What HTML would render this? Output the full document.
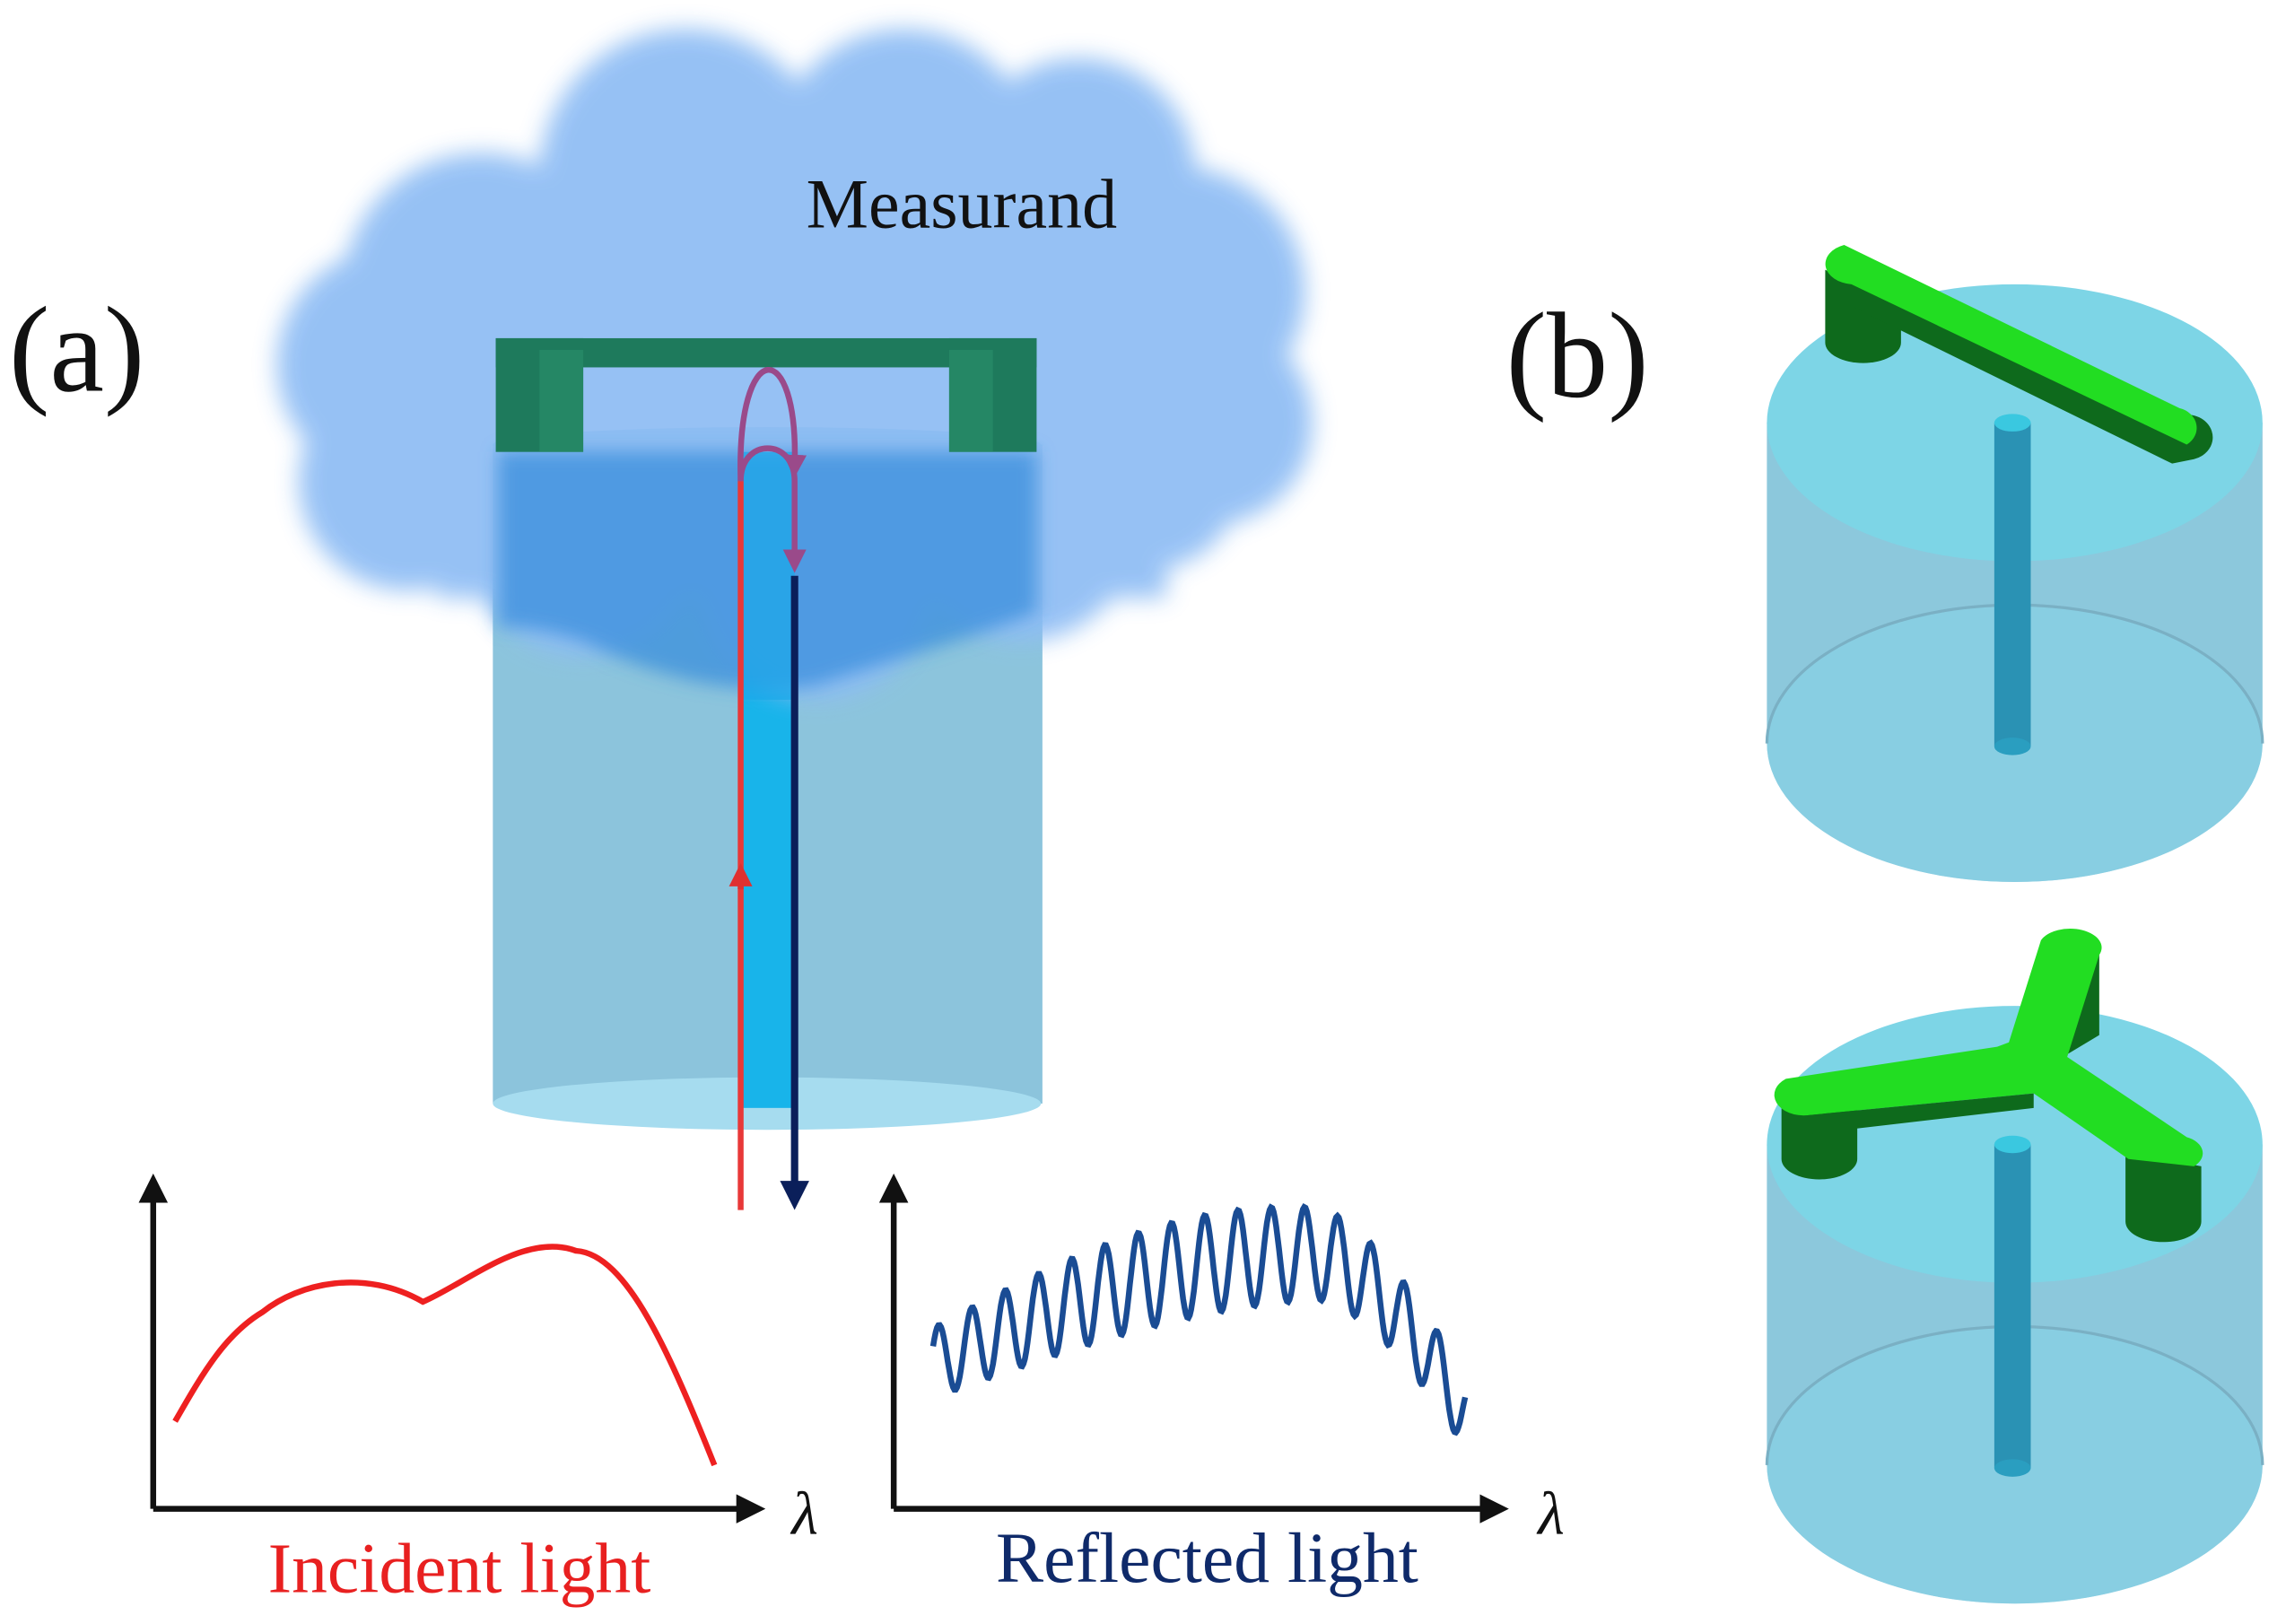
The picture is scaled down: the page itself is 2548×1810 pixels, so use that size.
<!DOCTYPE html>
<html><head><meta charset="utf-8"><style>
html,body{margin:0;padding:0;background:#fff;}
svg{display:block}
text{font-family:"Liberation Serif",serif;}
</style></head><body>
<svg width="2548" height="1810" viewBox="0 0 1568 1114" xmlns="http://www.w3.org/2000/svg">
<defs>
<filter id="blur" x="-20%" y="-20%" width="140%" height="140%"><feGaussianBlur stdDeviation="8"/></filter>
<filter id="blur2" x="-20%" y="-20%" width="140%" height="140%"><feGaussianBlur stdDeviation="6"/></filter>
<marker id="ar" viewBox="0 0 10 10" refX="5" refY="5" markerWidth="5" markerHeight="5" orient="auto"><path d="M0,0L10,5L0,10z" fill="#111"/></marker>
<marker id="an" viewBox="0 0 10 10" refX="5" refY="5" markerWidth="4" markerHeight="4" orient="auto"><path d="M0,0L10,5L0,10z" fill="#0b1f5a"/></marker>
<marker id="ap" viewBox="0 0 10 10" refX="5" refY="5" markerWidth="4" markerHeight="4" orient="auto"><path d="M0,0L10,5L0,10z" fill="#9a4a8a"/></marker>
<marker id="arr" viewBox="0 0 10 10" refX="5" refY="5" markerWidth="4" markerHeight="4" orient="auto"><path d="M0,0L10,5L0,10z" fill="#e03030"/></marker>
</defs>
<rect width="1568" height="1114" fill="#fff"/>

<rect x="338" y="305" width="377" height="452" fill="#8cc4dc"/>
<ellipse cx="526" cy="757" rx="188" ry="18" fill="#a6dcef"/>
<ellipse cx="526" cy="305" rx="188" ry="12" fill="#7ec6e0"/>
<rect x="508" y="310" width="37" height="450" fill="#18b4ea"/>

<g filter="url(#blur)" fill="#8fbdf4" opacity="0.93">
<circle cx="330" cy="200" r="95"/><circle cx="470" cy="120" r="100"/><circle cx="620" cy="110" r="90"/>
<circle cx="740" cy="120" r="80"/><circle cx="810" cy="200" r="85"/><circle cx="830" cy="290" r="70"/>
<circle cx="270" cy="250" r="80"/><circle cx="280" cy="330" r="75"/><circle cx="400" cy="370" r="80"/>
<circle cx="560" cy="400" r="80"/><circle cx="700" cy="360" r="80"/><circle cx="790" cy="330" r="60"/>
<rect x="300" y="130" width="500" height="280"/>
</g>
<!-- darker cylinder part inside cloud -->
<g filter="url(#blur2)">
<path d="M342,310 H711 V420 C660,440 620,450 560,470 C500,480 440,460 400,440 C370,430 350,430 342,430 Z" fill="#3a8fdc" opacity="0.75"/>
</g>
<rect x="508" y="310" width="37" height="170" fill="#1aa8ea" opacity="0.7"/>

<rect x="340" y="232" width="371" height="20" fill="#1e7a5c"/>
<rect x="340" y="232" width="60" height="78" fill="#1e7a5c"/>
<rect x="651" y="232" width="60" height="78" fill="#1e7a5c"/>
<rect x="370" y="240" width="30" height="70" fill="#2a8f6a" opacity="0.6"/>
<rect x="651" y="240" width="30" height="70" fill="#2a8f6a" opacity="0.6"/>

<line x1="508" y1="830" x2="508" y2="330" stroke="#e83838" stroke-width="4"/>
<line x1="508" y1="610" x2="508" y2="600" stroke="#e03030" stroke-width="4" marker-end="url(#arr)"/>
<path d="M508,330 C508,300 545,300 545,330 L545,385" fill="none" stroke="#9a4a8a" stroke-width="4" marker-end="url(#ap)"/>
<path d="M508,330 C505,230 548,230 545,320" fill="none" stroke="#9a4a8a" stroke-width="4" marker-end="url(#ap)"/>
<line x1="545" y1="395" x2="545" y2="820" stroke="#0b1f5a" stroke-width="5" marker-end="url(#an)"/>

<text x="553" y="156" font-size="48" fill="#111">Measurand</text>
<text x="6" y="268" font-size="84" fill="#111">(a)</text>
<text x="1033" y="272" font-size="84" fill="#111">(b)</text>

<g stroke="#111" stroke-width="4" fill="none">
<path d="M105,1035 V815" marker-end="url(#ar)"/><path d="M105,1035 H515" marker-end="url(#ar)"/>
<path d="M613,1035 V815" marker-end="url(#ar)"/><path d="M613,1035 H1025" marker-end="url(#ar)"/>
</g>
<text x="543" y="1052" font-size="42" font-style="italic" fill="#111">λ</text>
<text x="1055" y="1052" font-size="42" font-style="italic" fill="#111">λ</text>
<path d="M120,975 C140,940 155,915 180,900 C205,880 250,870 290,893 C320,880 360,845 395,858 C430,860 460,930 490,1005" fill="none" stroke="#ee2020" stroke-width="4"/>
<path id="wave" fill="none" stroke="#1a4c94" stroke-width="4"/>
<text x="315" y="1092" font-size="49" fill="#e82020" text-anchor="middle">Incident light</text>
<text x="828" y="1085" font-size="49" fill="#0f2a6a" text-anchor="middle">Reflected light</text>

<g>
<path d="M1212,290 V510 A170,95 0 0 0 1552,510 V290 z" fill="#8cc8dc"/>
<ellipse cx="1382" cy="510" rx="170" ry="95" fill="#86d2e6" opacity="0.6"/>
<path d="M1212,510 A170,95 0 0 1 1552,510" fill="none" stroke="#7ab0c4" stroke-width="2"/>
<ellipse cx="1382" cy="290" rx="170" ry="95" fill="#7dd5e6"/>
<rect x="1368" y="290" width="25" height="222" fill="#2a92b4"/>
<ellipse cx="1380.5" cy="290" rx="12.5" ry="6" fill="#3ac8e0"/>
<ellipse cx="1380.5" cy="512" rx="12.5" ry="6" fill="#2a9ec0"/>
<path d="M1252,185 V235 A26,14 0 0 0 1304,235 V212 z" fill="#0e6a1c"/>
<path d="M1262,170 L1495,285 A16,14 0 0 1 1505,315 L1490,318 L1270,210 Z" fill="#0e6a1c"/>
<path d="M1265,168 L1495,280 A16,14 0 0 1 1500,305 L1270,195 A20,14 0 0 1 1265,168 Z" fill="#22dd22"/>
</g>

<g>
<path d="M1212,785 V1005 A170,95 0 0 0 1552,1005 V785 z" fill="#8cc8dc"/>
<ellipse cx="1382" cy="1005" rx="170" ry="95" fill="#86d2e6" opacity="0.6"/>
<path d="M1212,1005 A170,95 0 0 1 1552,1005" fill="none" stroke="#7ab0c4" stroke-width="2"/>
<ellipse cx="1382" cy="785" rx="170" ry="95" fill="#7dd5e6"/>
<rect x="1368" y="785" width="25" height="222" fill="#2a92b4"/>
<ellipse cx="1380.5" cy="785" rx="12.5" ry="6" fill="#3ac8e0"/>
<ellipse cx="1380.5" cy="1007" rx="12.5" ry="6" fill="#2a9ec0"/>
<path d="M1222,745 V795 A26,14 0 0 0 1274,795 V760 z" fill="#0e6a1c"/>
<path d="M1458,790 V838 A26,14 0 0 0 1510,838 V800 z" fill="#0e6a1c"/>
<path d="M1415,650 L1440,645 V710 L1415,725 z" fill="#0e6a1c"/>
<path d="M1378,715 L1400,645 A20,12 0 0 1 1440,655 L1418,725 L1500,780 A18,12 0 0 1 1505,800 L1460,795 L1395,750 L1240,765 A20,14 0 0 1 1225,740 L1370,718 Z" fill="#22dd22"/>
<path d="M1240,765 L1395,750 L1395,760 L1240,778 Z" fill="#0e6a1c"/>
</g>

<script>
(function(){
 var d="",n=400;
 for(var i=0;i<=n;i++){
  var t=i/n, x=640+t*365;
  var env;
  if(t<0.72){env=935-75*Math.sin(t/0.72*Math.PI/2);} else {env=860+Math.pow((t-0.72)/0.28,1.6)*110;}
  var amp=24+10*Math.sin(t*Math.PI);
  var y=env-amp*Math.sin(t*16*2*Math.PI+0.5);
  d+=(i?"L":"M")+x.toFixed(1)+","+y.toFixed(1);
 }
 document.getElementById("wave").setAttribute("d",d);
})();
</script>
</svg>
</body></html>
